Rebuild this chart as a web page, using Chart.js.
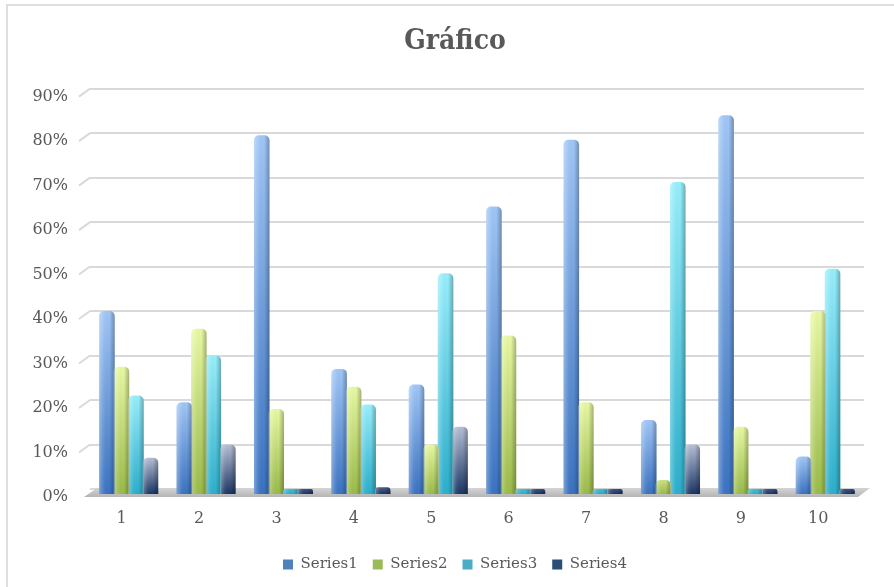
<!DOCTYPE html>
<html>
<head>
<meta charset="utf-8">
<script src="https://cdn.jsdelivr.net/npm/chart.js@4.4.1/dist/chart.umd.min.js"></script>
<style>
  html, body { margin: 0; padding: 0; background: #ffffff; overflow: hidden; }
  #wrap { position: relative; width: 894px; height: 587px; }
  #frame { position: absolute; left: 6px; top: 4px; width: 900px; height: 600px;
           border-left: 2px solid #dedede; border-top: 2px solid #dedede; box-sizing: border-box; }
  canvas { position: absolute; left: 0; top: 0; }
</style>
</head>
<body>
<div id="wrap">
  <div id="frame"></div>
  <canvas id="chart" width="894" height="587"></canvas>
</div>
<script>
// Categories and series values (fractions, shown as percentages)
const categories = ['1', '2', '3', '4', '5', '6', '7', '8', '9', '10'];
const series1 = [0.40, 0.195, 0.795, 0.27, 0.235, 0.635, 0.785, 0.155, 0.84, 0.073];
const series2 = [0.275, 0.36, 0.18, 0.23, 0.10, 0.345, 0.195, 0.02, 0.14, 0.40];
const series3 = [0.21, 0.30, 0, 0.19, 0.485, 0, 0, 0.69, 0, 0.495];
const series4 = [0.07, 0.10, 0, 0.004, 0.14, 0, 0, 0.10, 0, 0];
const seriesNames = ['Series1', 'Series2', 'Series3', 'Series4'];
const yTicks = [0, 0.1, 0.2, 0.3, 0.4, 0.5, 0.6, 0.7, 0.8, 0.9];

const TEXT = '#595959';
const GRID = '#d9d9d9';
const SERIF = "'DejaVu Serif', 'Liberation Serif', serif";
const FLOOR_BASE = -0.011;   // bars start slightly in front of the back wall

// top / bottom shades for each series
const shades = [
  ['#a0c6f6', '#3a72c0'],
  ['#e8f9a4', '#9aba4a'],
  ['#98eefb', '#2caecb'],
  ['#b6c0d6', '#1b3564']
];
const solid = ['#4f81bd', '#9bbb59', '#4bacc6', '#2c4d75'];

function barFill(top, bottom) {
  return (ctx) => {
    const chart = ctx.chart;
    if (!chart.chartArea || !ctx.parsed) return bottom;
    const ys = chart.scales.y;
    const y0 = ys.getPixelForValue(FLOOR_BASE);
    const y1 = Math.min(ys.getPixelForValue(ctx.parsed.y), y0 - 22);
    const g = chart.ctx.createLinearGradient(0, y1, 0, y0);
    g.addColorStop(0, top);
    g.addColorStop(1, bottom);
    return g;
  };
}

// gray floor slab and the slanted ends of the gridlines on the side wall
const wallPlugin = {
  id: 'wall',
  beforeDatasetsDraw(chart) {
    const { ctx, chartArea: a, scales: { y } } = chart;
    ctx.save();
    ctx.strokeStyle = GRID;
    ctx.lineWidth = 2;
    yTicks.forEach((v) => {
      if (v === 0) return;
      const py = y.getPixelForValue(v);
      ctx.beginPath();
      ctx.moveTo(a.left - 11, py + 8);
      ctx.lineTo(a.left, py);
      ctx.stroke();
    });
    const y0 = y.getPixelForValue(0);
    ctx.beginPath();
    ctx.moveTo(a.left - 6, y0 + 8);
    ctx.lineTo(a.left + 7, y0 - 1);
    ctx.lineTo(a.right + 6, y0 - 1);
    ctx.lineTo(a.right - 6, y0 + 8);
    ctx.closePath();
    const g = ctx.createLinearGradient(0, y0 - 1, 0, y0 + 8);
    g.addColorStop(0, '#d4d4d4');
    g.addColorStop(1, '#b4b4b4');
    ctx.fillStyle = g;
    ctx.fill();
    ctx.restore();
  },
  afterDatasetsDraw(chart) {
    // rounded cylinder shading across every bar
    const { ctx } = chart;
    ctx.save();
    chart.data.datasets.forEach((ds, i) => {
      const meta = chart.getDatasetMeta(i);
      meta.data.forEach((el) => {
        const left = el.x - el.width / 2;
        const top = Math.min(el.y, el.base);
        const h = Math.abs(el.base - el.y);
        if (h < 1) return;
        const g = ctx.createLinearGradient(left, 0, left + el.width, 0);
        g.addColorStop(0, 'rgba(255,255,255,0.32)');
        g.addColorStop(0.3, 'rgba(255,255,255,0.06)');
        g.addColorStop(0.65, 'rgba(0,0,0,0)');
        g.addColorStop(1, 'rgba(0,0,0,0.28)');
        ctx.fillStyle = g;
        ctx.beginPath();
        const r = Math.min(5, h / 2);
        if (ctx.roundRect) ctx.roundRect(left, top, el.width, h, [r, r, 0, 0]);
        else ctx.rect(left, top + r, el.width, h - r);
        ctx.fill();
      });
    });
    ctx.restore();
  }
};

const allSeries = [series1, series2, series3, series4];

new Chart(document.getElementById('chart'), {
  type: 'bar',
  data: {
    labels: categories,
    datasets: allSeries.map((values, i) => ({
      label: seriesNames[i],
      data: values,
      base: FLOOR_BASE,
      clip: false,
      backgroundColor: barFill(shades[i][0], shades[i][1]),
      borderWidth: 0,
      borderSkipped: 'bottom',
      borderRadius: { topLeft: 5, topRight: 5, bottomLeft: 0, bottomRight: 0 },
      categoryPercentage: 0.75,
      barPercentage: 1.07,
      minBarLength: 2
    }))
  },
  options: {
    responsive: false,
    animation: false,
    layout: { padding: { left: 16, right: 0, top: 0, bottom: 5 } },
    plugins: {
      title: {
        display: true,
        text: 'Gráfico',
        color: TEXT,
        font: { family: "'DejaVu Serif Condensed', 'DejaVu Serif', serif", size: 28, weight: 'bold' },
        padding: { top: 25, bottom: 30 }
      },
      legend: {
        position: 'bottom',
        labels: {
          color: TEXT,
          font: { family: SERIF, size: 15 },
          boxWidth: 10,
          boxHeight: 10,
          padding: 15,
          generateLabels: (chart) => chart.data.datasets.map((ds, i) => ({
            text: ds.label,
            fillStyle: solid[i],
            strokeStyle: solid[i],
            lineWidth: 0,
            hidden: false,
            datasetIndex: i,
            fontColor: TEXT
          }))
        }
      },
      tooltip: { enabled: false }
    },
    scales: {
      x: {
        grid: { display: false, drawTicks: false },
        border: { display: false },
        ticks: { color: TEXT, font: { family: SERIF, size: 16 }, padding: 20, labelOffset: -7 },
        afterFit: (s) => { s.height = 53; }
      },
      y: {
        min: 0,
        max: 0.9,
        grid: { color: GRID, lineWidth: 2, drawTicks: false },
        border: { display: false },
        afterBuildTicks: (s) => { s.ticks = yTicks.map((v) => ({ value: v })); },
        ticks: {
          color: TEXT,
          font: { family: SERIF, size: 16 },
          padding: 22,
          labelOffset: 8,
          callback: (v) => Math.round(v * 100) + '%'
        },
        afterFit: (s) => { s.width = 74; }
      },
      // empty margin on the right of the plot
      yRight: {
        position: 'right',
        display: true,
        grid: { display: false, drawTicks: false },
        border: { display: false },
        ticks: { display: false },
        afterFit: (s) => { s.width = 30; }
      }
    }
  },
  plugins: [wallPlugin]
});
</script>
</body>
</html>
